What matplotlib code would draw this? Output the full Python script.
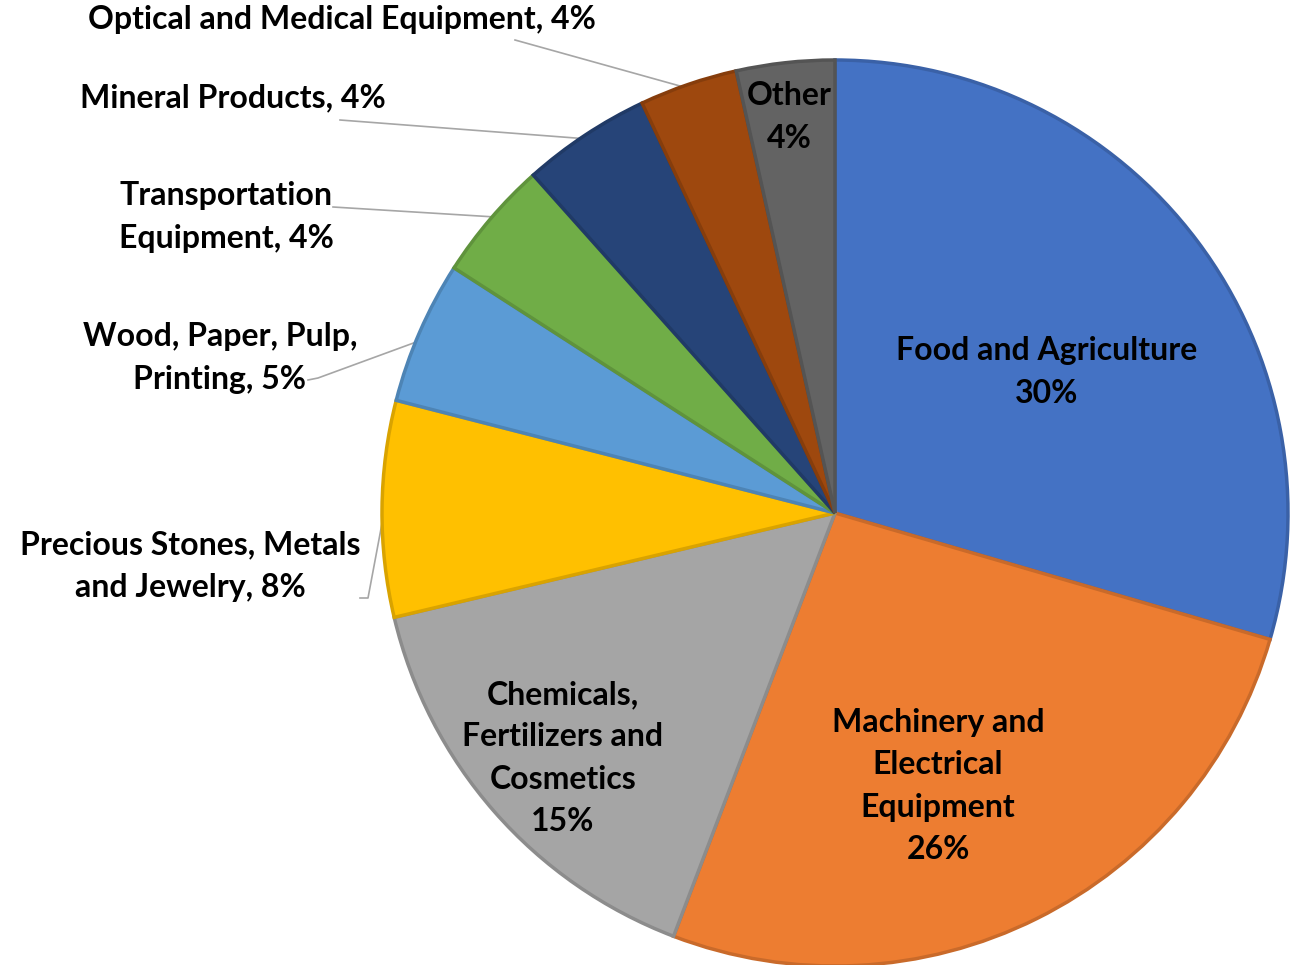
import numpy as np
import matplotlib
matplotlib.use("Agg")
from matplotlib import pyplot as plt
from matplotlib.colors import to_rgb

# slice shares, clockwise from 12 o'clock
categories = ["Food and Agriculture", "Machinery and Electrical Equipment",
              "Chemicals, Fertilizers and Cosmetics",
              "Precious Stones, Metals and Jewelry",
              "Wood, Paper, Pulp, Printing", "Transportation Equipment",
              "Mineral Products", "Optical and Medical Equipment", "Other"]
shares = [29.5, 26.3, 15.5, 7.7, 5.1, 4.3, 4.6, 3.5, 3.5]
pct_text = ["30%", "26%", "15%", "8%", "5%", "4%", "4%", "4%", "4%"]
colors = ["#4472C4", "#ED7D31", "#A5A5A5", "#FFC000", "#5B9BD5",
          "#70AD47", "#264478", "#9E480E", "#636363"]

# label texts as laid out in the picture
inside_labels = {
    0: "Food and Agriculture\n30%",
    1: "Machinery and\nElectrical\nEquipment\n26%",
    2: "Chemicals,\nFertilizers and\nCosmetics\n15%",
    8: "Other\n4%",
}
outside_labels = {
    3: "Precious Stones, Metals\nand Jewelry, 8%",
    4: "Wood, Paper, Pulp,\nPrinting, 5%",
    5: "Transportation\nEquipment, 4%",
    6: "Mineral Products, 4%",
    7: "Optical and Medical Equipment, 4%",
}

W, H = 1299, 965
fig = plt.figure(figsize=(W / 100, H / 100), dpi=100)
ax = fig.add_axes([0, 0, 1, 1])

cx, cy, R = 835, H - 513, 453


def darker(c, f=0.85):
    return tuple(v * f for v in to_rgb(c))


wedges, _ = ax.pie(shares, colors=colors, startangle=90, counterclock=False,
                   center=(cx, cy), radius=R,
                   wedgeprops=dict(linewidth=2.5))
for w, c in zip(wedges, colors):
    w.set_edgecolor(darker(c))

font = dict(family=["Lato", "DejaVu Sans"], fontweight="bold", fontsize=23,
            color="black")

# inside label positions (pixel coords, y from top)
inside_pos = {0: (1047, 372), 1: (938, 786), 2: (563, 758), 8: (789, 117)}
for i, txt in inside_labels.items():
    x, y = inside_pos[i]
    ax.text(x, H - y, txt, ha="center", va="center", linespacing=1.55, **font)

# outside labels: text centre, leader start
outside_pos = {
    3: ((190, 566), [(360, 598), (368, 598)]),
    4: ((220, 358), [(308, 380), (318, 378)]),
    5: ((226, 217), [(333, 207)]),
    6: ((233, 98), [(340, 120)]),
    7: ((342, 20), [(515, 40)]),
}
leader_frac = {3: 0.45, 4: 0.55, 5: 0.45, 6: 0.5, 7: 0.5}
for i, txt in outside_labels.items():
    (x, y), pts = outside_pos[i]
    ax.text(x, H - y, txt, ha="center", va="center", linespacing=1.55, **font)
    w = wedges[i]
    ang = np.deg2rad(w.theta1 + (w.theta2 - w.theta1) * leader_frac[i])
    end = (cx + R * 0.99 * np.cos(ang), cy + R * 0.99 * np.sin(ang))
    xs = [p[0] for p in pts] + [end[0]]
    ys = [H - p[1] for p in pts] + [end[1]]
    ax.plot(xs, ys, color="#A6A6A6", lw=1.2, zorder=0.5)

ax.set_xlim(0, W)
ax.set_ylim(0, H)
ax.set_aspect("equal")
ax.axis("off")
fig.savefig("out.png", dpi=100)
